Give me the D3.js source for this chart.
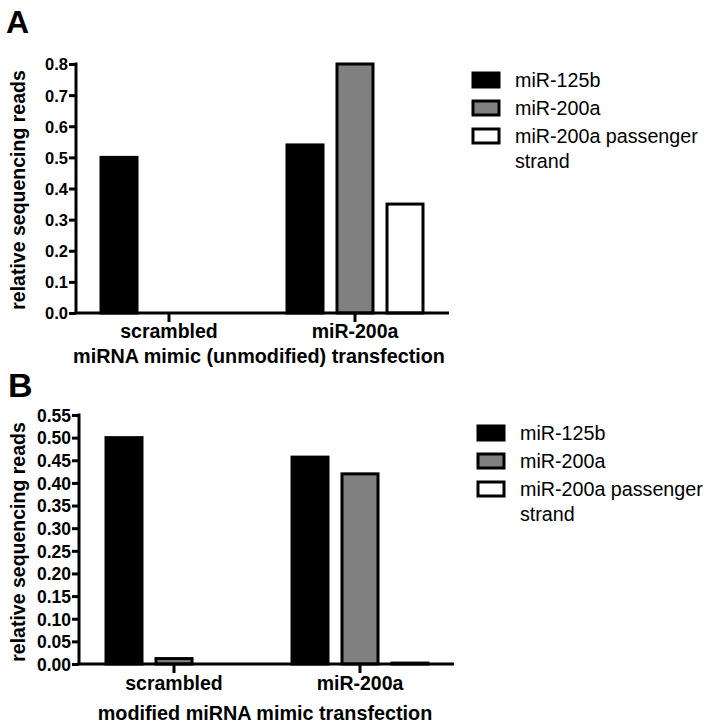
<!DOCTYPE html>
<html>
<head>
<meta charset="utf-8">
<script src="https://cdn.jsdelivr.net/npm/d3@7"></script>
<style>
  html, body { margin: 0; padding: 0; background: #fff; }
  svg { display: block; }
  text { font-family: "Liberation Sans", Arial, sans-serif; fill: #000; }
</style>
</head>
<body>
<svg id="chart" width="709" height="727"></svg>
<script>
// ---- data ----
const categories = ["scrambled", "miR-200a"];
const seriesNames = ["miR-125b", "miR-200a", "miR-200a passenger strand"];
const seriesColors = ["#000000", "#808080", "#ffffff"];

// Panel A: miRNA mimic (unmodified) transfection
const panelA_miR125b = [0.50, 0.54];
const panelA_miR200a = [0.00, 0.80];
const panelA_passenger = [0.00, 0.35];
const panelA_ticks = [0.0, 0.1, 0.2, 0.3, 0.4, 0.5, 0.6, 0.7, 0.8];

// Panel B: modified miRNA mimic transfection
const panelB_miR125b = [0.50, 0.457];
const panelB_miR200a = [0.012, 0.42];
const panelB_passenger = [0.000, 0.002];
const panelB_ticks = [0.00, 0.05, 0.10, 0.15, 0.20, 0.25, 0.30, 0.35, 0.40, 0.45, 0.50, 0.55];

const svg = d3.select("#chart");

function drawPanel(cfg) {
  const g = svg.append("g");
  const series = [cfg.s1, cfg.s2, cfg.s3];
  const rows = [];
  categories.forEach((c, i) => {
    seriesNames.forEach((s, j) => rows.push({cat: c, ser: s, val: series[j][i], color: seriesColors[j]}));
  });

  const x = d3.scaleBand().domain(categories).range(cfg.xRange).padding(0);
  const xs = d3.scaleBand().domain(seriesNames).range([-75, 75]).paddingInner(0.28).paddingOuter(0.14);
  const y = d3.scaleLinear().domain([0, cfg.ticks[cfg.ticks.length - 1]]).range(cfg.yRange);

  // bars
  g.selectAll("rect.bar").data(rows).enter().append("rect")
    .attr("class", "bar")
    .attr("x", d => x(d.cat) + x.bandwidth() / 2 + xs(d.ser))
    .attr("width", xs.bandwidth())
    .attr("y", d => y(d.val))
    .attr("height", d => y(0) - y(d.val))
    .attr("fill", d => d.color)
    .attr("stroke", "#000")
    .attr("stroke-width", 3);

  // y axis
  const yAxis = d3.axisLeft(y).tickValues(cfg.ticks).tickFormat(d3.format(cfg.fmt))
    .tickSizeInner(7).tickSizeOuter(0).tickPadding(1);
  const ya = g.append("g").attr("transform", `translate(${cfg.axisX},0)`).call(yAxis);
  ya.select(".domain").attr("stroke-width", 3).attr("d", `M0,${cfg.yRange[1] - 1.5}H0V${cfg.yRange[0]}`);
  ya.selectAll(".tick line").attr("stroke-width", 3);
  ya.selectAll(".tick text").attr("font-size", cfg.tickFont).attr("font-weight", "bold")
    .attr("font-family", "Liberation Sans, Arial, sans-serif").attr("fill", "#000").attr("dy", "0.36em");

  // x axis
  const xAxis = d3.axisBottom(x).tickSizeInner(9).tickSizeOuter(0).tickFormat(() => "");
  const xa = g.append("g").attr("transform", `translate(0,${cfg.yRange[0]})`).call(xAxis);
  xa.select(".domain").attr("stroke-width", 3).attr("d", `M${cfg.axisX - 1.5},0H${cfg.axisEnd}`);
  xa.selectAll(".tick line").attr("stroke-width", 3);

  // category labels
  g.selectAll("text.cat").data(categories).enter().append("text")
    .attr("class", "cat")
    .attr("x", d => x(d) + x.bandwidth() / 2)
    .attr("y", cfg.catY)
    .attr("text-anchor", "middle")
    .attr("font-size", 19.5).attr("font-weight", "bold")
    .text(d => d);

  // x title
  g.append("text").attr("x", cfg.titleX).attr("y", cfg.titleY)
    .attr("text-anchor", "middle").attr("font-size", 19.8).attr("font-weight", "bold")
    .text(cfg.xTitle);

  // y title
  g.append("text")
    .attr("transform", `translate(25,${cfg.yTitleY}) rotate(-90)`)
    .attr("text-anchor", "middle").attr("font-size", 19.5).attr("font-weight", "bold")
    .text("relative sequencing reads");

  // panel letter
  g.append("text").attr("x", cfg.letterX).attr("y", cfg.letterY)
    .attr("font-size", cfg.letterSize).attr("font-weight", "bold").text(cfg.letter);

  // legend
  const lg = g.append("g");
  seriesNames.forEach((s, j) => {
    const ry = cfg.legY + j * 28;
    lg.append("rect").attr("x", cfg.legX).attr("y", ry - 7).attr("width", 26).attr("height", 14)
      .attr("fill", seriesColors[j]).attr("stroke", "#000").attr("stroke-width", 3);
    const t = lg.append("text").attr("x", cfg.legX + 42).attr("y", ry + 7).attr("font-size", 19.7);
    if (s === "miR-200a passenger strand") {
      t.append("tspan").attr("x", cfg.legX + 42).text("miR-200a passenger");
      t.append("tspan").attr("x", cfg.legX + 42).attr("dy", 25).text("strand");
    } else {
      t.text(s);
    }
  });
}

drawPanel({
  s1: panelA_miR125b, s2: panelA_miR200a, s3: panelA_passenger,
  ticks: panelA_ticks, fmt: ".1f",
  xRange: [76, 448], yRange: [313, 64], axisX: 76, axisEnd: 449,
  tickFont: 16.5, catY: 338, titleX: 259, titleY: 363, xTitle: "miRNA mimic (unmodified) transfection",
  yTitleY: 190, letter: "A", letterX: 6, letterY: 33, letterSize: 32,
  legX: 473, legY: 80
});

drawPanel({
  s1: panelB_miR125b, s2: panelB_miR200a, s3: panelB_passenger,
  ticks: panelB_ticks, fmt: ".2f",
  xRange: [81, 453], yRange: [664, 415], axisX: 79, axisEnd: 454,
  tickFont: 17.5, catY: 690, titleX: 265, titleY: 720, xTitle: "modified miRNA mimic transfection",
  yTitleY: 542, letter: "B", letterX: 8, letterY: 397, letterSize: 34,
  legX: 478, legY: 433
});
</script>
</body>
</html>
